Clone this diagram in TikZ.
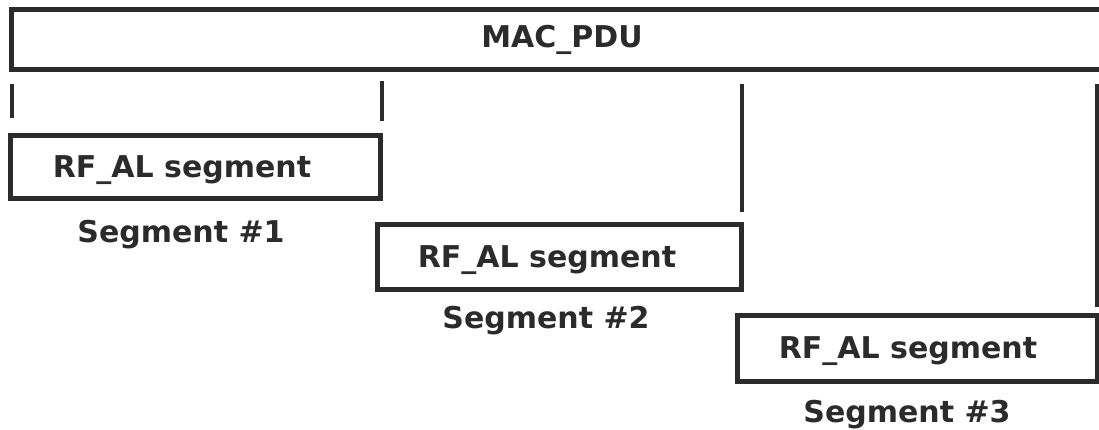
\documentclass[tikz,border=0pt]{standalone}
\usepackage{fontspec}
\setmainfont{DejaVu Sans}
\usetikzlibrary{positioning}
\definecolor{ink}{HTML}{2B2B2B}
\tikzset{
    pdubox/.style={draw=ink, line width=5pt, inner sep=0pt},
    segtext/.style={text=ink, anchor=base, inner sep=0pt,
        font=\bfseries\fontsize{30}{34}\selectfont},
    tickline/.style={draw=ink, line width=3.5pt}
}
\begin{document}
\begin{tikzpicture}[x=1pt,y=-1pt]
    \useasboundingbox (0,0) rectangle (1099,430);

    % MAC PDU on top
    \node[pdubox, minimum width=1099pt,
        minimum height=60pt] (mac) at (560.5,40) {};
    \node[segtext] (macname) at (562,48) {MAC\_PDU};

    % Split marks
    \draw[tickline] (12,84) -- (12,118);
    \draw[tickline] (382,81) -- (382,121);
    \draw[tickline] (742,84) -- (742,212);
    \draw[tickline] (1097,84) -- (1097,307);

    % Segments
    \node[pdubox, minimum width=370pt,
        minimum height=63pt] (seg1) at (195,167.5) {};
    \node[segtext] (rfal1) at (182,178) {RF\_AL segment};
    \node[segtext] (name1) at (181,243) {Segment \#1};
    %
    \node[pdubox, minimum width=364pt,
        minimum height=64pt] (seg2) at (559,257) {};
    \node[segtext] (rfal2) at (547,267) {RF\_AL segment};
    \node[segtext] (name2) at (546,328) {Segment \#2};
    %
    \node[pdubox, minimum width=360pt,
        minimum height=66pt] (seg3) at (917,348) {};
    \node[segtext] (rfal3) at (908,358) {RF\_AL segment};
    \node[segtext] (name3) at (907,422) {Segment \#3};

\end{tikzpicture}
\end{document}
